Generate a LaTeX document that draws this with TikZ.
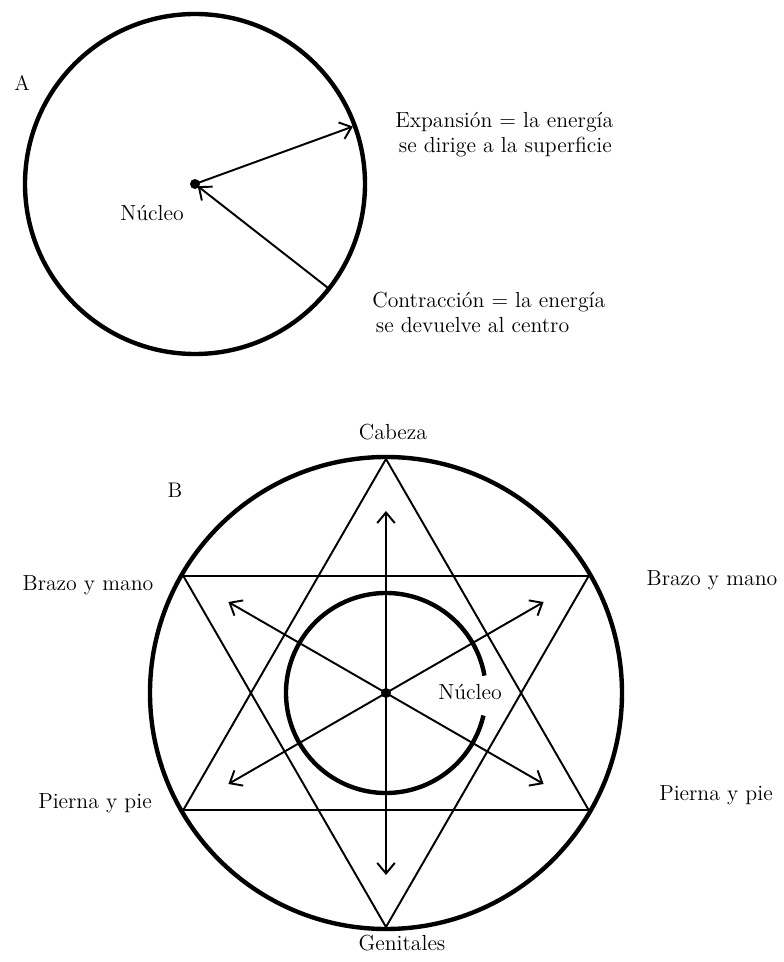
\documentclass[tikz,border=0pt]{standalone}
\usetikzlibrary{arrows.meta}
\tikzset{
  cercle/.style={draw=black, line width=2.5pt},
  estrella/.style={draw=black, line width=1.1pt},
  punta/.tip={Straight Barb[length=6pt,width=10pt,line width=1.1pt]},
  fletxa/.style={draw=black, line width=1.1pt, -punta},
  doble/.style={draw=black, line width=1.1pt, punta-punta},
  etiqueta/.style={font=\fontsize{12.4}{14.5}\selectfont, inner sep=0pt},
  lletra/.style={font=\fontsize{12}{14}\selectfont, inner sep=0pt},
}

\begin{document}
\begin{tikzpicture}[x=1cm,y=1cm]
  \useasboundingbox (0,0) rectangle (15.66,19.24);

  % A: expansion i contraccio
  \begin{scope}[shift={(3.9,15.56)}]
    \coordinate (nucliA) at (0,0);
    \draw[cercle] (nucliA) circle (3.4);
    \fill (nucliA) circle (0.1);
    \coordinate (voraA1) at (20:3.36);
    \coordinate (voraA2) at (-38:3.4);
    \draw[fletxa] (nucliA) -- (voraA1);
    \draw[fletxa, shorten >=2pt] (voraA2) -- (nucliA);
  \end{scope}
  \node[lletra] (lletraA) at (0.44,17.58) {A};
  \node[etiqueta] (nucliAtxt) at (3.04,14.98) {Núcleo};
  \node[etiqueta, anchor=west, align=left] (expansio) at (7.9,16.55)
    {Expansión = la energía\\\hspace{2pt}se dirige a la superficie};
  \node[etiqueta, anchor=west, align=left] (contraccio) at (7.44,12.99)
    {Contracción = la energía\\\hspace{2pt}se devuelve al centro};

  % B: estrella
  \begin{scope}[shift={(7.72,5.38)}]
    \coordinate (nucliB) at (0,0);
    \draw[cercle] (nucliB) circle (4.72);
    \draw[estrella] (90:4.68) -- (210:4.68) -- (330:4.68) -- cycle;
    \draw[estrella] (270:4.68) -- (30:4.68) -- (150:4.68) -- cycle;
    \draw[cercle] (10:2) arc (10:347:2);
    \fill (nucliB) circle (0.1);
    \foreach \ang/\nom in {90/cap,30/brd,150/bre,210/pie,330/pid,270/gen}
      \coordinate (\nom) at (\ang:3.64);
    \draw[doble] (cap) -- (gen);
    \draw[doble] (bre) -- (pid);
    \draw[doble] (brd) -- (pie);
  \end{scope}
  \node[lletra] (lletraB) at (3.5,9.44) {B};
  \node[etiqueta] (cabeza) at (7.86,10.6) {Cabeza};
  \node[etiqueta] (brazoE) at (1.76,7.54) {Brazo y mano};
  \node[etiqueta] (brazoD) at (14.24,7.64) {Brazo y mano};
  \node[etiqueta] (piernaE) at (1.9,3.18) {Pierna y pie};
  \node[etiqueta] (piernaD) at (14.32,3.34) {Pierna y pie};
  \node[etiqueta] (genitales) at (8.04,0.38) {Genitales};
  \node[etiqueta] (nucliBtxt) at (9.4,5.4) {Núcleo};
\end{tikzpicture}
\end{document}
